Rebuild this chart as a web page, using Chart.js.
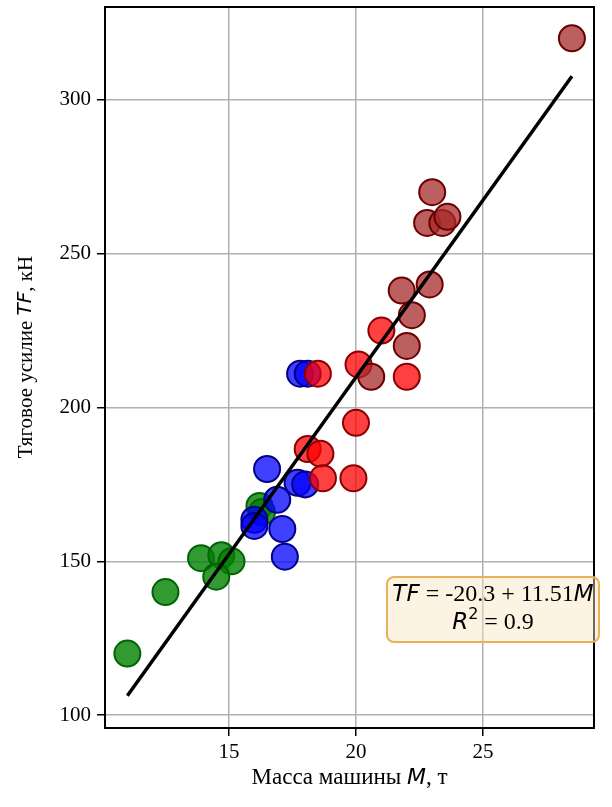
<!DOCTYPE html>
<html>
<head>
<meta charset="utf-8">
<script src="https://cdn.jsdelivr.net/npm/chart.js@4.4.1/dist/chart.umd.min.js"></script>
<style>
  html, body { margin: 0; padding: 0; background: #fff; }
  #wrap { width: 612px; height: 807px; }
</style>
</head>
<body>
<div id="wrap"><canvas id="chart" width="612" height="807"></canvas></div>
<script>
// Data: machine mass M [t], traction force TF [kN]
const greenM = [11.0, 12.5, 13.9, 14.7, 15.1, 14.5, 16.2, 16.3];
const greenTF = [120, 140, 151, 152, 150, 145, 168, 166];

const blueM = [17.8, 18.1, 16.5, 17.7, 18.0, 16.9, 16.0, 16.0, 17.1, 17.2];
const blueTF = [211, 211, 180, 175.5, 175, 170, 163.5, 161.5, 160.5, 151.5];

const redM = [18.5, 20.1, 21.0, 22.0, 20.0, 18.1, 18.6, 18.7, 19.9];
const redTF = [211, 214, 225, 210, 195, 186.5, 185, 177, 177];

const brownM = [20.6, 22.0, 22.2, 21.8, 22.9, 22.8, 23.0, 23.4, 23.6, 28.5];
const brownTF = [210, 220, 230, 238, 240, 260, 270, 260, 262, 320];

// Regression line end points: TF = -20.3 + 11.51 M
const fitM = [11.0, 28.5];
const fitTF = [106.3, 307.7];

const xTicks = [15, 20, 25];
const yTicks = [100, 150, 200, 250, 300];

const SERIF = '"Liberation Serif", "Times New Roman", serif';
const SANS = '"DejaVu Sans", sans-serif';

function toPoints(xs, ys) {
  return xs.map((x, i) => ({ x: x, y: ys[i] }));
}

function pointSet(xs, ys, fill, edge) {
  return {
    type: 'scatter',
    data: toPoints(xs, ys),
    backgroundColor: fill,
    borderColor: edge,
    borderWidth: 2,
    pointRadius: 13,
    pointHoverRadius: 13
  };
}

// Draw a line of text made of runs with different fonts
function drawRuns(ctx, runs, x, y) {
  let total = 0;
  runs.forEach(r => {
    ctx.font = r.font;
    r.w = ctx.measureText(r.text).width;
    total += r.w;
  });
  let cx = x - total / 2;
  ctx.textBaseline = 'middle';
  ctx.textAlign = 'left';
  runs.forEach(r => {
    ctx.font = r.font;
    ctx.fillText(r.text, cx, y + (r.dy || 0));
    cx += r.w;
  });
}

const decorPlugin = {
  id: 'decor',
  beforeDatasetsDraw(chart) {
    const { ctx, chartArea: ca } = chart;
    ctx.save();
    ctx.strokeStyle = '#000';
    ctx.lineWidth = 2;
    ctx.strokeRect(ca.left, ca.top, ca.right - ca.left, ca.bottom - ca.top);
    ctx.restore();
  },
  afterDatasetsDraw(chart) {
    const { ctx, chartArea: ca } = chart;
    ctx.save();
    ctx.fillStyle = '#000';

    // x axis title
    drawRuns(ctx, [
      { text: 'Масса машины ', font: '23px ' + SERIF },
      { text: 'M', font: 'italic 22px ' + SANS },
      { text: ', т', font: '23px ' + SERIF }
    ], (ca.left + ca.right) / 2, 778);

    // y axis title
    ctx.save();
    ctx.translate(26, 357);
    ctx.rotate(-Math.PI / 2);
    drawRuns(ctx, [
      { text: 'Тяговое усилие ', font: '21px ' + SERIF },
      { text: 'TF', font: 'italic 20px ' + SANS },
      { text: ', кН', font: '21px ' + SERIF }
    ], 0, 0);
    ctx.restore();

    // equation box
    const bx = ca.right - 207, by = ca.bottom - 151, bw = 212, bh = 65;
    ctx.beginPath();
    ctx.roundRect(bx, by, bw, bh, 7);
    ctx.fillStyle = 'rgba(250, 228, 190, 0.45)';
    ctx.fill();
    ctx.lineWidth = 2;
    ctx.strokeStyle = '#e8b25a';
    ctx.stroke();

    ctx.fillStyle = '#000';
    const mid = bx + bw / 2;
    drawRuns(ctx, [
      { text: 'TF', font: 'italic 23px ' + SANS },
      { text: ' = -20.3 + 11.51', font: '24px ' + SERIF },
      { text: 'M', font: 'italic 23px ' + SANS }
    ], mid, by + 18);
    drawRuns(ctx, [
      { text: 'R', font: 'italic 23px ' + SANS },
      { text: '2', font: '16px ' + SANS, dy: -8 },
      { text: ' = 0.9', font: '24px ' + SERIF }
    ], mid, by + 46);
    ctx.restore();
  }
};

new Chart(document.getElementById('chart'), {
  data: {
    datasets: [
      {
        type: 'line',
        data: toPoints(fitM, fitTF),
        borderColor: '#000',
        borderWidth: 3.5,
        pointRadius: 0,
        fill: false,
        order: 0
      },
      Object.assign(pointSet(greenM, greenTF, 'rgba(0, 128, 0, 0.8)', '#006400'), { order: 4 }),
      Object.assign(pointSet(blueM, blueTF, 'rgba(0, 0, 255, 0.75)', '#00008b'), { order: 3 }),
      Object.assign(pointSet(redM, redTF, 'rgba(255, 0, 0, 0.75)', '#8b0000'), { order: 2 }),
      Object.assign(pointSet(brownM, brownTF, 'rgba(165, 42, 42, 0.75)', '#6b0000'), { order: 1 })
    ]
  },
  options: {
    responsive: false,
    animation: false,
    layout: { autoPadding: false, padding: { top: 7, right: 18, left: 0, bottom: 0 } },
    plugins: {
      legend: { display: false },
      tooltip: { enabled: false }
    },
    scales: {
      x: {
        type: 'linear',
        min: 10.12,
        max: 29.37,
        afterBuildTicks: s => { s.ticks = xTicks.map(v => ({ value: v })); },
        afterFit: s => { s.height = 79; s.paddingLeft = 0; s.paddingRight = 0; },
        grid: { color: '#b0b0b0', lineWidth: 1.5, tickColor: '#000', tickLength: 8, tickWidth: 1.5 },
        border: { display: false },
        ticks: { color: '#000', font: { family: SERIF, size: 21 }, padding: 4, maxRotation: 0 }
      },
      y: {
        type: 'linear',
        min: 95.8,
        max: 330.2,
        afterBuildTicks: s => { s.ticks = yTicks.map(v => ({ value: v })); },
        afterFit: s => { s.width = 105; s.paddingTop = 0; s.paddingBottom = 0; },
        grid: { color: '#b0b0b0', lineWidth: 1.5, tickColor: '#000', tickLength: 8, tickWidth: 1.5 },
        border: { display: false },
        ticks: { color: '#000', font: { family: SERIF, size: 21 }, padding: 6 }
      }
    }
  },
  plugins: [decorPlugin]
});
</script>
</body>
</html>
